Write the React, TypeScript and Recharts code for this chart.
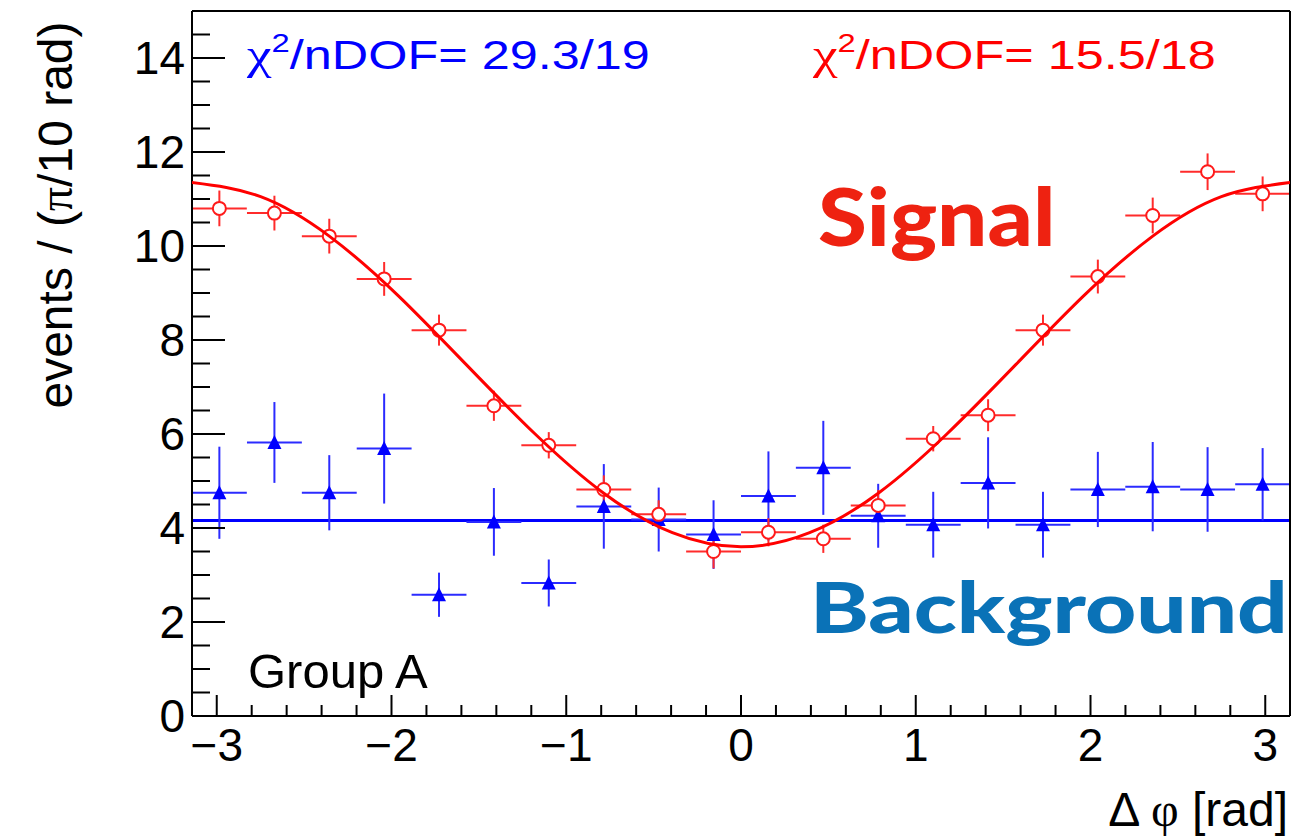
import React from "react";
import { ComposedChart, Scatter, Line, XAxis, YAxis, ErrorBar } from "recharts";

// bin centres of the 20 bins of width pi/10
const binCenters = [
  -2.985, -2.67, -2.356, -2.042, -1.728, -1.414, -1.1, -0.785, -0.471, -0.157,
  0.157, 0.471, 0.785, 1.1, 1.414, 1.728, 2.042, 2.356, 2.67, 2.985,
];
const binHalfWidth = 0.157;

const signalCounts = [
  10.8, 10.7, 10.21, 9.3, 8.21, 6.6, 5.76, 4.82, 4.29, 3.5,
  3.91, 3.77, 4.48, 5.9, 6.4, 8.21, 9.35, 10.65, 11.58, 11.11,
];
const signalErrors = [
  0.38, 0.37, 0.37, 0.36, 0.33, 0.32, 0.28, 0.3, 0.3, 0.36,
  0.3, 0.3, 0.33, 0.27, 0.34, 0.33, 0.36, 0.38, 0.39, 0.37,
];

const backgroundCounts = [
  4.75, 5.82, 4.75, 5.69, 2.58, 4.13, 2.83, 4.46, 4.18, 3.86,
  4.68, 5.28, 4.26, 4.07, 4.96, 4.07, 4.82, 4.88, 4.82, 4.93,
];
const backgroundErrors = [
  0.98, 0.86, 0.8, 1.17, 0.47, 0.72, 0.5, 0.9, 0.68, 0.73,
  0.95, 1.0, 0.68, 0.7, 0.97, 0.7, 0.8, 0.95, 0.9, 0.77,
];

// fitted curves
const signalFitX = [
  -3.1416, -2.7489, -2.3562, -1.9635, -1.5708, -1.1781, -0.7854, -0.3927, 0,
  0.3927, 0.7854, 1.1781, 1.5708, 1.9635, 2.3562, 2.7489, 3.1416,
];
const signalFitY = [
  11.35, 11.05, 10.21, 8.95, 7.47, 6.0, 4.74, 3.9, 3.6,
  3.9, 4.74, 6.0, 7.47, 8.95, 10.21, 11.05, 11.35,
];
const backgroundFitX = [-3.1416, 3.1416];
const backgroundFitY = [4.16, 4.16];

// x ticks every 0.2, labelled on the integers
const xTicks = [
  -3, -2.8, -2.6, -2.4, -2.2, -2, -1.8, -1.6, -1.4, -1.2, -1, -0.8, -0.6, -0.4,
  -0.2, 0, 0.2, 0.4, 0.6, 0.8, 1, 1.2, 1.4, 1.6, 1.8, 2, 2.2, 2.4, 2.6, 2.8, 3,
];
const yMajorTicks = [0, 2, 4, 6, 8, 10, 12, 14];
const yMinorTicks = [
  0.5, 1, 1.5, 2, 2.5, 3, 3.5, 4, 4.5, 5, 5.5, 6, 6.5, 7, 7.5, 8, 8.5, 9, 9.5,
  10, 10.5, 11, 11.5, 12, 12.5, 13, 13.5, 14, 14.5,
];

const signalPoints = binCenters.map((x, i) => ({
  x,
  y: signalCounts[i],
  ex: binHalfWidth,
  ey: signalErrors[i],
}));
const backgroundPoints = binCenters.map((x, i) => ({
  x,
  y: backgroundCounts[i],
  ex: binHalfWidth,
  ey: backgroundErrors[i],
}));
const signalFit = signalFitX.map((x, i) => ({ x, y: signalFitY[i] }));
const backgroundFit = backgroundFitX.map((x, i) => ({ x, y: backgroundFitY[i] }));

const X_DOMAIN = [-Math.PI, Math.PI];
const Y_DOMAIN = [0, 15];
const PLOT_LEFT = 192;
const PLOT_BOTTOM = 716;
const font = "'Liberation Sans', Arial, sans-serif";
const serif = "'Liberation Serif', 'Times New Roman', serif";
const tickFont = { fontSize: 46, fill: "#000", fontFamily: font };
const frame = { stroke: "#000", strokeWidth: 2 };

const minus = (v: number) => (v < 0 ? `\u2212${Math.abs(v)}` : `${v}`);

// ROOT style ticks pointing into the frame
const yTickMark = (len: number) => (props: any) => (
  <line x1={PLOT_LEFT} x2={PLOT_LEFT + len} y1={props.y} y2={props.y} stroke="#000" strokeWidth={2} />
);
const XTick = (props: any) => {
  const v = props.payload.value;
  const major = Number.isInteger(v);
  return (
    <g>
      <line x1={props.x} x2={props.x} y1={PLOT_BOTTOM} y2={PLOT_BOTTOM - (major ? 21 : 11)}
        stroke="#000" strokeWidth={2} />
      {major && (
        <text x={props.x} y={props.y} dy="0.71em" textAnchor="middle" {...tickFont}>
          {minus(v)}
        </text>
      )}
    </g>
  );
};

const OpenCircle = (props: any) => (
  <circle cx={props.cx} cy={props.cy} r={6.5} fill="#fff" stroke="#ff1a1a" strokeWidth={2} />
);
const Triangle = (props: any) => {
  const { cx, cy } = props;
  return (
    <polygon
      points={`${cx},${cy - 7.5} ${cx - 7},${cy + 6.5} ${cx + 7},${cy + 6.5}`}
      fill="#0000ff"
    />
  );
};

function Labels() {
  return (
    <svg
      width={1315}
      height={838}
      style={{ position: "absolute", left: 0, top: 0, pointerEvents: "none" }}
    >
      <text
        transform="translate(72,215) rotate(-90)"
        textAnchor="middle"
        fontSize={48}
        fontFamily={font}
        fill="#000"
      >
        events / (<tspan fontFamily={serif}>π</tspan>/10 rad)
      </text>
      <text x={1288} y={826} textAnchor="end" fontSize={48} fontFamily={font} fill="#000">
        Δ <tspan fontFamily={serif}>φ</tspan> [rad]
      </text>
      <g transform="translate(247,69) scale(1.26,1)" fill="#0000ff" fontFamily={font} fontSize={40}>
        <text>
          <tspan fontFamily={serif} fontSize={44}>χ</tspan>
          <tspan fontSize={26} dy={-17}>2</tspan>
          <tspan dy={17}>/nDOF= 29.3/19</tspan>
        </text>
      </g>
      <g transform="translate(813,69) scale(1.26,1)" fill="#ff0000" fontFamily={font} fontSize={40}>
        <text>
          <tspan fontFamily={serif} fontSize={44}>χ</tspan>
          <tspan fontSize={26} dy={-17}>2</tspan>
          <tspan dy={17}>/nDOF= 15.5/18</tspan>
        </text>
      </g>
      <text x={248} y={688} fontSize={49} fontFamily={font} fill="#000">
        Group A
      </text>
      <g transform="translate(818,246) scale(1.11,1)">
        <text fontSize={80} fontWeight={900} fontFamily="Lato, sans-serif" fill="#ee2211">
          Signal
        </text>
      </g>
      <g transform="translate(810,633) scale(1.27,1)">
        <text fontSize={70} fontWeight={900} fontFamily="Lato, sans-serif" fill="#0a72b7">
          Background
        </text>
      </g>
    </svg>
  );
}

export default function App() {
  return (
    <div style={{ position: "absolute", left: 0, top: 0, width: 1315, height: 838, background: "#fff" }}>
      <ComposedChart width={1315} height={838} margin={{ top: 11, right: 25, left: 0, bottom: 0 }}>
        <XAxis
          dataKey="x"
          type="number"
          domain={X_DOMAIN}
          allowDataOverflow
          ticks={xTicks}
          interval={0}
          tick={XTick}
          tickLine={false}
          tickSize={0}
          tickMargin={12}
          height={122}
          axisLine={frame}
        />
        <XAxis xAxisId="top" orientation="top" type="number" domain={X_DOMAIN} allowDataOverflow mirror
          height={1} tick={false} tickLine={false} axisLine={frame} />
        <YAxis
          type="number"
          domain={Y_DOMAIN}
          allowDataOverflow
          ticks={yMajorTicks}
          interval={0}
          tick={tickFont}
          tickLine={false}
          tickSize={0}
          tickMargin={7}
          width={192}
          axisLine={frame}
        />
        <YAxis yAxisId="yMajor" type="number" domain={Y_DOMAIN} allowDataOverflow mirror width={1}
          ticks={yMajorTicks} interval={0} tick={yTickMark(33)} tickLine={false} axisLine={false} />
        <YAxis yAxisId="yMinor" type="number" domain={Y_DOMAIN} allowDataOverflow mirror width={1}
          ticks={yMinorTicks} interval={0} tick={yTickMark(18)} tickLine={false} axisLine={false} />
        <YAxis yAxisId="right" orientation="right" type="number" domain={Y_DOMAIN} allowDataOverflow mirror
          width={1} tick={false} tickLine={false} axisLine={frame} />

        <Line data={backgroundFit} dataKey="y" type="linear" stroke="#0000ff" strokeWidth={3}
          dot={false} activeDot={false} isAnimationActive={false} />
        <Scatter data={backgroundPoints} dataKey="y" shape={Triangle} isAnimationActive={false}>
          <ErrorBar dataKey="ey" direction="y" width={0} stroke="#2b2bff" strokeWidth={2} isAnimationActive={false} />
          <ErrorBar dataKey="ex" direction="x" width={0} stroke="#2b2bff" strokeWidth={2} isAnimationActive={false} />
        </Scatter>
        <Scatter data={signalPoints} dataKey="y" shape={OpenCircle} isAnimationActive={false}>
          <ErrorBar dataKey="ey" direction="y" width={0} stroke="#ff2b2b" strokeWidth={2} isAnimationActive={false} />
          <ErrorBar dataKey="ex" direction="x" width={0} stroke="#ff2b2b" strokeWidth={2} isAnimationActive={false} />
        </Scatter>
        <Line data={signalFit} dataKey="y" type="natural" stroke="#ff0000" strokeWidth={3}
          dot={false} activeDot={false} isAnimationActive={false} zIndex={700} />
      </ComposedChart>
      <Labels />
    </div>
  );
}
